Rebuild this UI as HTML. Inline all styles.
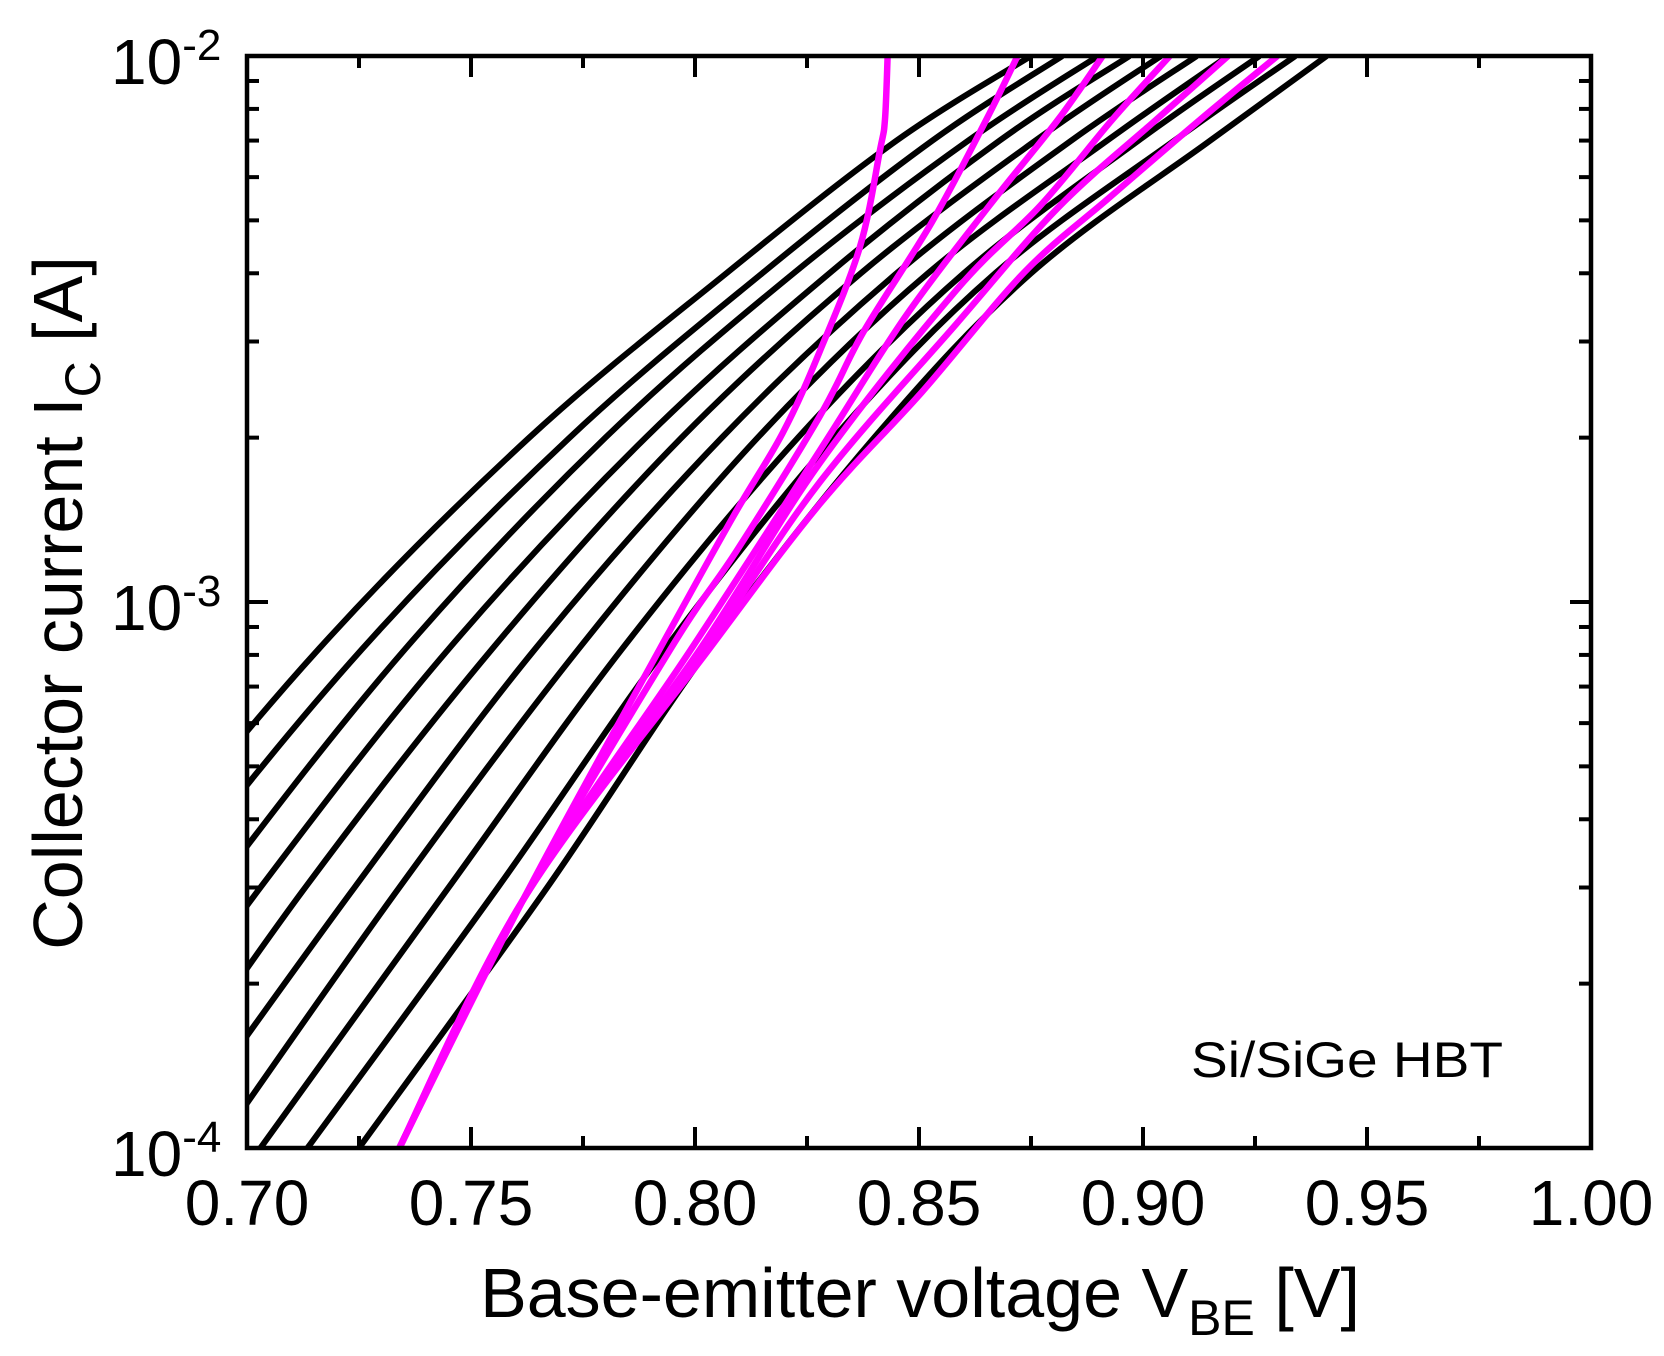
<!DOCTYPE html>
<html><head><meta charset="utf-8"><style>
html,body{margin:0;padding:0;background:#fff;}
svg{display:block;font-family:"Liberation Sans",Arial,sans-serif;}
</style></head><body>
<svg id="chart" width="1664" height="1356" viewBox="0 0 1664 1356" xmlns="http://www.w3.org/2000/svg">
<defs><clipPath id="plotclip"><rect x="247" y="56" width="1344" height="1092"/></clipPath></defs>
<rect x="0" y="0" width="1664" height="1356" fill="#fff"/>
<g id="curves" clip-path="url(#plotclip)"></g>
<g id="axes"></g>
<text x="1191" y="1077" font-size="50" textLength="312" lengthAdjust="spacingAndGlyphs">Si/SiGe HBT</text>
<text x="920" y="1317" font-size="70" text-anchor="middle">Base-emitter voltage V<tspan font-size="50" dy="18">BE</tspan><tspan dy="-18"> [V]</tspan></text>
<text transform="translate(82,603) rotate(-90)" font-size="70" text-anchor="middle">Collector current I<tspan font-size="50" dy="18">C</tspan><tspan dy="-18"> [A]</tspan></text>
</svg>
<script>
// ---- data ----
const blackCurrents = [1e-4, 3e-4, 8.2e-4, 2e-3, 4e-3, 7e-3, 1e-2];
const black0 = [0.630, 0.672, 0.716, 0.763, 0.807, 0.845, 0.875];
const black1 = [0.640, 0.682, 0.7257, 0.772, 0.815, 0.853, 0.882];
const black2 = [0.651, 0.693, 0.7353, 0.780, 0.822, 0.861, 0.890];
const black3 = [0.661, 0.703, 0.745, 0.789, 0.830, 0.868, 0.897];
const black4 = [0.672, 0.713, 0.7547, 0.797, 0.837, 0.876, 0.904];
const black5 = [0.682, 0.724, 0.7643, 0.806, 0.845, 0.884, 0.912];
const black6 = [0.693, 0.734, 0.774, 0.814, 0.852, 0.892, 0.919];
const black7 = [0.703, 0.745, 0.7837, 0.823, 0.860, 0.899, 0.926];
const black8 = [0.7135, 0.756, 0.7933, 0.831, 0.867, 0.907, 0.934];
const black9 = [0.725, 0.767, 0.803, 0.840, 0.875, 0.915, 0.941];
const blackSeries = [black0, black1, black2, black3, black4, black5, black6, black7, black8, black9];

const pink0Log = [-4, -3.546, -3.088, -2.844, -2.69, -2.54, -2.35, -2.172, -2.117, -2];
const pink0V   = [0.734, 0.7616, 0.792, 0.8085, 0.8196, 0.8279, 0.8368, 0.8413, 0.8424, 0.843];
const pink1Log = [-4, -3.546, -3.088, -2.905, -2.659, -2.504, -2.304, -2.117, -2];
const pink1V   = [0.734, 0.7616, 0.7944, 0.8094, 0.8279, 0.8377, 0.8529, 0.865, 0.872];
const pink2Log = [-4, -3.546, -3.088, -2.722, -2.478, -2.273, -2.117, -2];
const pink2V   = [0.734, 0.7616, 0.799, 0.8279, 0.8469, 0.8658, 0.881, 0.891];
const pink3Log = [-4, -3.546, -3.088, -2.745, -2.429, -2.273, -2.117, -2];
const pink3V   = [0.734, 0.7616, 0.801, 0.8279, 0.8583, 0.8772, 0.8931, 0.906];
const pink4Log = [-4, -3.546, -3.088, -2.78, -2.491, -2.278, -2.117, -2];
const pink4V   = [0.734, 0.7616, 0.802, 0.8279, 0.8583, 0.881, 0.9029, 0.919];
const pink5Log = [-4, -3.546, -3.088, -2.82, -2.615, -2.397, -2.26, -2.117, -2];
const pink5V   = [0.734, 0.7616, 0.803, 0.8279, 0.8507, 0.8734, 0.8924, 0.9127, 0.930];

const xTicks = [0.70, 0.75, 0.80, 0.85, 0.90, 0.95, 1.00];
const xTickLabels = ["0.70", "0.75", "0.80", "0.85", "0.90", "0.95", "1.00"];
const yDecades = [-4, -3, -2];
const yTickExp = ["-4", "-3", "-2"];

// ---- scales ----
const X0 = 247, X1 = 1591, Y0 = 1148, Y1 = 56;
function xs(v){ return X0 + (v - 0.70) / 0.30 * (X1 - X0); }
function ys(lg){ return Y0 - (lg + 4) / 2 * (Y0 - Y1); }
const NS = "http://www.w3.org/2000/svg";

function spline(pts){
  let d = "M" + pts[0][0].toFixed(2) + "," + pts[0][1].toFixed(2);
  for (let i = 0; i < pts.length - 1; i++){
    const p0 = pts[Math.max(0, i-1)], p1 = pts[i], p2 = pts[i+1], p3 = pts[Math.min(pts.length-1, i+2)];
    const c1x = p1[0] + (p2[0]-p0[0])/6, c1y = p1[1] + (p2[1]-p0[1])/6;
    const c2x = p2[0] - (p3[0]-p1[0])/6, c2y = p2[1] - (p3[1]-p1[1])/6;
    d += " C" + c1x.toFixed(2) + "," + c1y.toFixed(2) + " " + c2x.toFixed(2) + "," + c2y.toFixed(2) + " " + p2[0].toFixed(2) + "," + p2[1].toFixed(2);
  }
  return d;
}
const g = document.getElementById("curves");
blackSeries.forEach((vs, k) => {
  const pts = vs.map((v, i) => [xs(v), ys(Math.log10(blackCurrents[i]))]);
  const p = document.createElementNS(NS, "path");
  p.setAttribute("d", spline(pts));
  p.setAttribute("fill", "none"); p.setAttribute("stroke", "#000"); p.setAttribute("stroke-width", "6");
  
  
  g.appendChild(p);
});
const pinkSeries = [[pink0Log, pink0V], [pink1Log, pink1V], [pink2Log, pink2V], [pink3Log, pink3V], [pink4Log, pink4V], [pink5Log, pink5V]];
pinkSeries.forEach((s, k) => {
  const pts = s[0].map((lg, i) => [xs(s[1][i]), ys(lg)]);
  const p = document.createElementNS(NS, "path");
  p.setAttribute("d", spline(pts));
  p.setAttribute("fill", "none"); p.setAttribute("stroke", "#ff00ff"); p.setAttribute("stroke-width", "6.5");
  
  
  g.appendChild(p);
});

// ---- axes ----
const ax = document.getElementById("axes");
function line(x1,y1,x2,y2,w,name){
  const l = document.createElementNS(NS, "line");
  l.setAttribute("x1",x1); l.setAttribute("y1",y1); l.setAttribute("x2",x2); l.setAttribute("y2",y2);
  l.setAttribute("stroke","#000"); l.setAttribute("stroke-width",w);
  
  
  ax.appendChild(l);
}
const frame = document.createElementNS(NS, "rect");
frame.setAttribute("x", X0); frame.setAttribute("y", Y1); frame.setAttribute("width", X1-X0); frame.setAttribute("height", Y0-Y1);
frame.setAttribute("fill","none"); frame.setAttribute("stroke","#000"); frame.setAttribute("stroke-width","4.5");


ax.appendChild(frame);
for (let v = 0.70; v <= 1.0001; v += 0.025){
  const major = Math.abs(Math.round(v*20) - v*20) < 1e-6;
  const L = major ? 21 : 12, x = xs(v);
  line(x, Y0, x, Y0-L, 4, "x-tick");
  line(x, Y1, x, Y1+L, 4, "x-tick-top");
}
for (let d = -4; d < -2; d++){
  for (let m = 1; m <= 9; m++){
    const lg = d + Math.log10(m), y = ys(lg), L = m === 1 ? 21 : 12;
    if (m === 1 && d === -4) continue;
    line(X0, y, X0+L, y, 4, "y-tick");
    line(X1, y, X1-L, y, 4, "y-tick-right");
  }
}
xTicks.forEach((v, i) => {
  const t = document.createElementNS(NS, "text");
  t.setAttribute("x", xs(v)); t.setAttribute("y", 1225);
  t.setAttribute("font-size", "64"); t.setAttribute("text-anchor", "middle");
  t.textContent = xTickLabels[i];
  
  
  ax.appendChild(t);
});
yDecades.forEach((d, i) => {
  const y = ys(d);
  const t = document.createElementNS(NS, "text");
  t.setAttribute("x", 111); t.setAttribute("y", y + 28);
  t.setAttribute("font-size", "64");
  t.textContent = "10";
  const s = document.createElementNS(NS, "tspan");
  s.setAttribute("font-size", "44"); s.setAttribute("dy", "-24");
  s.textContent = yTickExp[i];
  t.appendChild(s);
  
  
  ax.appendChild(t);
});
</script>
</body></html>
